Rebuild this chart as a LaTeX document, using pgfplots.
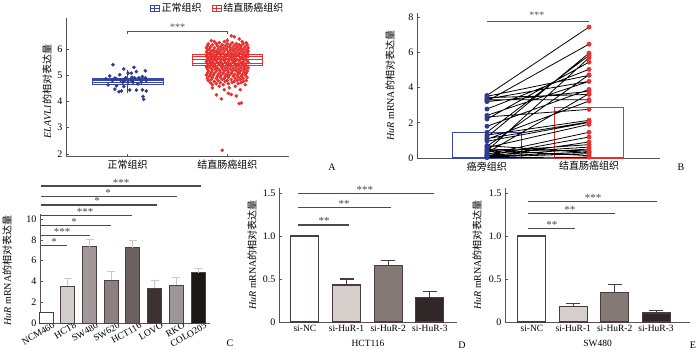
\documentclass[border=0pt]{standalone}
\usepackage{fontspec}
\setmainfont{Liberation Serif}
\newfontfamily\cjk{Noto Sans CJK SC}
\usepackage{pgfplots}
\pgfplotsset{compat=1.18}
\usepgfplotslibrary{statistics}
\definecolor{axc}{HTML}{555555}
\definecolor{bluep}{HTML}{2D3A8E}
\definecolor{redp}{HTML}{E8302E}
\definecolor{blueb}{HTML}{3848A8}
\definecolor{outl}{HTML}{4A4040}
\definecolor{errl}{HTML}{CFC6C6}
\definecolor{errd}{HTML}{4A3C3C}
\definecolor{sigc}{HTML}{4A4A4A}
\definecolor{c1}{HTML}{FFFFFF}
\definecolor{c2}{HTML}{D3CDCB}
\definecolor{c3}{HTML}{A39799}
\definecolor{c4}{HTML}{8B8080}
\definecolor{c5}{HTML}{6B6161}
\definecolor{c6}{HTML}{3C3232}
\definecolor{c7}{HTML}{9C9696}
\definecolor{c8}{HTML}{1C1717}
\definecolor{d2}{HTML}{D6CFCC}
\definecolor{d3}{HTML}{857977}
\definecolor{d4}{HTML}{302828}
\newcommand{\fT}{\fontsize{10bp}{12bp}\selectfont}
\newcommand{\fS}{\fontsize{9.5bp}{11bp}\selectfont}
\newcommand{\fR}{\fontsize{9.5bp}{10bp}\selectfont}
\newcommand{\fB}{\fontsize{11bp}{12bp}\selectfont}
\tikzset{sig/.style={draw=sigc, line width=1.1pt}}
\pgfplotsset{
  base/.style={scale only axis, anchor=south west, axis x line*=bottom, axis y line*=left,
    axis line style={draw=axc, line width=0.8pt}, tick style={draw=axc, line width=0.6pt},
    tick align=inside, major tick length=3bp, enlargelimits=false, clip=false,
    tick label style={font=\fT}, label style={font=\fT},
    /pgf/number format/assume math mode=true},
  cbar/.style={ybar, bar width=14bp, bar shift=0pt, draw=outl, line width=0.9pt,
    error bars/y dir=plus, error bars/y explicit,
    error bars/error bar style={line width=0.9pt, color=#1},
    error bars/error mark options={rotate=90, mark size=4bp, line width=0.9pt, color=#1}},
  dbar/.style={ybar, bar width=28bp, bar shift=0pt, draw=errd, line width=1.1pt,
    error bars/y dir=plus, error bars/y explicit,
    error bars/error bar style={line width=1.1pt, color=errd},
    error bars/error mark options={rotate=90, mark size=7bp, line width=1.1pt, color=errd}},
  pbar/.style={ybar, bar width=#1, bar shift=0pt},
  bx/.style={forget plot, boxplot/draw direction=y, boxplot/box extend=0.71, boxplot/whisker extend=0},
}
\begin{document}
\begin{tikzpicture}
\path[use as bounding box] (0,0) rectangle (700bp,350bp);
% ---------------- Panel A
\begin{axis}[base, at={(66bp,193.4bp)}, width=223bp, height=139.1bp,
  xmin=0.38, xmax=2.62, ymin=1.9, ymax=7.2, ytick={2,3,4,5,6},
  xtick={1,2}, xticklabels={{\cjk 正常组织},{\cjk 结直肠癌组织}},
  ylabel={{\itshape ELAVL1}{\cjk 的相对表达量}},
  ylabel style={at={(axis description cs:-0.085,0.47)}, anchor=center},
  legend style={at={(axis description cs:0.68,1.065)}, anchor=center, draw=none, fill=none,
    legend columns=2, font=\fT, /tikz/every even column/.style={column sep=8bp}},
  legend image code/.code={\draw[#1, line width=0.7pt] (0bp,-3bp) rectangle (9bp,3bp);
    \draw[#1, line width=0.7pt] (0bp,0bp) -- (9bp,0bp);
    \draw[#1, line width=0.7pt] (4.5bp,-3bp) -- (4.5bp,3bp);}]
\addlegendimage{draw=blueb}
\addlegendentry{\cjk 正常组织}
\addlegendimage{draw=redp}
\addlegendentry{\cjk 结直肠癌组织}
\addplot[bx, draw=blueb, line width=0.7pt, boxplot prepared={median=4.8, upper quartile=4.9, lower quartile=4.65, upper whisker=5.2, lower whisker=4.33, draw position=1}] coordinates {};
\addplot[bx, draw=blueb, line width=0.5pt, boxplot prepared={median=4.8, upper quartile=4.86, lower quartile=4.72, upper whisker=4.86, lower whisker=4.72, draw position=1}] coordinates {};
\addplot[bx, draw=redp, line width=0.7pt, boxplot prepared={median=5.6, upper quartile=5.8, lower quartile=5.37, upper whisker=6.42, lower whisker=4.8, draw position=2}] coordinates {};
\addplot[bx, draw=redp, line width=0.5pt, boxplot prepared={median=5.6, upper quartile=5.71, lower quartile=5.47, upper whisker=5.71, lower whisker=5.47, draw position=2}] coordinates {};
\addplot[forget plot, only marks, mark=*, mark size=1.6bp, color=bluep] table {
x y
0.853 5.40
0.96 5.24
1.063 5.30
1.087 5.14
1.177 5.17
0.82 4.97
1.003 5.08
0.927 4.82
1.043 4.92
1.12 4.84
1.177 4.90
0.803 4.63
0.887 4.60
0.937 4.40
1.02 4.44
1.087 4.43
1.147 4.44
1.187 4.40
1.153 4.19
1.16 4.08
0.913 4.37
0.847 4.80
1.053 4.73
1.103 4.67
0.87 4.89
0.98 4.90
1.037 4.80
1.137 4.74
0.92 5.02
0.887 4.86
0.96 4.57
1.07 4.90
1.187 4.80
1.003 4.73
0.95 4.73
1.113 4.90
1.147 4.95
0.87 4.47
0.97 4.80
0.78 4.86
1.037 5.08
};
\addplot[forget plot, only marks, mark=*, mark size=1.6bp, color=redp] table {
x y
2.04 6.50
2.07 6.47
2.12 6.38
1.84 6.32
2.00 6.32
1.87 6.28
1.97 6.28
2.15 6.28
1.92 6.24
2.05 6.24
2.19 6.24
1.81 6.20
1.89 6.20
2.00 6.20
2.09 6.20
2.16 6.20
1.85 6.16
1.95 6.16
2.03 6.16
2.12 6.16
2.20 6.16
1.80 6.12
1.90 6.12
1.98 6.12
2.07 6.12
2.14 6.12
1.83 6.08
1.93 6.08
2.02 6.08
2.10 6.08
2.18 6.08
1.79 6.04
1.87 6.04
1.96 6.04
2.05 6.04
2.13 6.04
2.21 6.04
1.82 6.00
1.91 6.00
1.99 6.00
2.08 6.00
2.16 6.00
1.80 5.96
1.86 5.96
1.94 5.96
2.03 5.96
2.11 5.96
2.19 5.96
1.84 5.92
1.89 5.92
1.97 5.92
2.06 5.92
2.14 5.92
2.21 5.92
1.79 5.88
1.87 5.88
1.92 5.88
2.01 5.88
2.09 5.88
2.17 5.88
1.82 5.84
1.90 5.84
1.96 5.84
2.04 5.84
2.12 5.84
2.20 5.84
1.80 5.80
1.85 5.80
1.94 5.80
2.00 5.80
2.07 5.80
2.15 5.80
1.83 5.76
1.89 5.76
1.98 5.76
2.05 5.76
2.11 5.76
2.18 5.76
1.79 5.72
1.86 5.72
1.93 5.72
2.02 5.72
2.09 5.72
2.16 5.72
2.21 5.72
1.81 5.68
1.88 5.68
1.96 5.68
2.04 5.68
2.13 5.68
2.19 5.68
1.84 5.64
1.91 5.64
1.99 5.64
2.07 5.64
2.15 5.64
1.80 5.60
1.87 5.60
1.94 5.60
2.02 5.60
2.10 5.60
2.18 5.60
1.82 5.56
1.89 5.56
1.97 5.56
2.05 5.56
2.12 5.56
2.20 5.56
1.79 5.52
1.85 5.52
1.93 5.52
2.01 5.52
2.08 5.52
2.16 5.52
1.83 5.48
1.90 5.48
1.98 5.48
2.06 5.48
2.14 5.48
2.21 5.48
1.80 5.44
1.87 5.44
1.95 5.44
2.03 5.44
2.11 5.44
2.18 5.44
1.84 5.40
1.92 5.40
2.00 5.40
2.08 5.40
2.15 5.40
1.81 5.36
1.88 5.36
1.96 5.36
2.04 5.36
2.12 5.36
2.19 5.36
1.79 5.32
1.86 5.32
1.94 5.32
2.01 5.32
2.09 5.32
2.17 5.32
1.83 5.28
1.90 5.28
1.98 5.28
2.06 5.28
2.14 5.28
2.21 5.28
1.80 5.24
1.88 5.24
1.95 5.24
2.03 5.24
2.11 5.24
2.18 5.24
1.85 5.20
1.92 5.20
2.00 5.20
2.08 5.20
2.16 5.20
1.81 5.16
1.89 5.16
1.97 5.16
2.05 5.16
2.13 5.16
2.20 5.16
1.84 5.12
1.93 5.12
2.01 5.12
2.10 5.12
2.17 5.12
1.80 5.08
1.87 5.08
1.96 5.08
2.04 5.08
2.12 5.08
2.19 5.08
1.83 5.04
1.91 5.04
1.99 5.04
2.07 5.04
2.15 5.04
1.79 5.00
1.86 5.00
1.94 5.00
2.02 5.00
2.10 5.00
2.18 5.00
1.82 4.96
1.90 4.96
1.98 4.96
2.06 4.96
2.14 4.96
1.85 4.92
1.93 4.92
2.01 4.92
2.11 4.92
2.20 4.92
1.80 4.88
1.89 4.88
1.97 4.88
2.08 4.88
2.16 4.88
1.84 4.84
1.95 4.84
2.04 4.84
2.13 4.84
1.81 4.80
1.91 4.80
2.00 4.80
2.10 4.80
2.19 4.80
1.87 4.76
1.98 4.76
2.07 4.76
2.16 4.76
1.83 4.72
1.93 4.72
2.05 4.72
2.14 4.72
1.89 4.68
2.01 4.68
2.11 4.68
1.85 4.64
1.96 4.64
2.18 4.64
1.92 4.58
2.08 4.58
1.85 4.52
2.02 4.52
1.97 4.45
2.13 4.45
1.89 4.25
1.94 4.10
2.01 4.31
2.04 4.27
2.09 4.21
2.14 3.94
2.12 3.92
1.95 2.14
};
\draw[draw=axc, line width=0.6pt] (axis cs:1,6.57) -- (axis cs:1,6.69) -- (axis cs:2,6.69) -- (axis cs:2,6.57);
\node[font=\fT, text=axc, anchor=base] at (axis cs:1.5,6.69) {***};
\end{axis}
\node[font=\fT] at (332bp,183bp) {A};
% ---------------- Panel B
\begin{axis}[base, at={(417bp,192bp)}, width=243bp, height=144.5bp,
  xmin=0.314, xmax=2.696, ymin=0, ymax=8.2, ytick={0,2,4,6,8},
  xtick={1,2}, xticklabels={{\cjk 癌旁组织},{\cjk 结直肠癌组织}}, major x tick style={draw=none},
  ylabel={{\itshape HuR} mRNA{\cjk 的相对表达量}},
  ylabel style={at={(axis description cs:-0.111,0.5)}, anchor=center},
  unbounded coords=jump]
\addplot[pbar=69bp, draw=blueb, fill=none, line width=1.1pt] coordinates {(1,1.45)};
\addplot[pbar=69bp, draw=redp, fill=none, line width=1.1pt] coordinates {(2,2.85)};
\addplot[black, line width=0.8pt] coordinates {
(1,3.55) (2,7.43) (1,nan)
(1,3.50) (2,4.69) (1,nan)
(1,3.42) (2,3.61) (1,nan)
(1,3.31) (2,3.31) (1,nan)
(1,3.23) (2,6.46) (1,nan)
(1,3.20) (2,3.78) (1,nan)
(1,3.35) (2,4.35) (1,nan)
(1,2.78) (2,5.03) (1,nan)
(1,2.42) (2,4.35) (1,nan)
(1,2.33) (2,2.76) (1,nan)
(1,2.21) (2,5.44) (1,nan)
(1,1.80) (2,3.89) (1,nan)
(1,1.46) (2,5.82) (1,nan)
(1,1.30) (2,2.14) (1,nan)
(1,1.19) (2,5.95) (1,nan)
(1,1.06) (2,3.23) (1,nan)
(1,0.95) (2,2.02) (1,nan)
(1,0.66) (2,4.72) (1,nan)
(1,0.59) (2,1.91) (1,nan)
(1,0.40) (2,5.69) (1,nan)
(1,0.30) (2,3.65) (1,nan)
(1,0.21) (2,1.46) (1,nan)
(1,0.13) (2,1.19) (1,nan)
(1,0.06) (2,0.91) (1,nan)
(1,0.35) (2,0.76) (1,nan)
(1,0.25) (2,0.62) (1,nan)
(1,0.15) (2,0.51) (1,nan)
(1,0.10) (2,0.34) (1,nan)
(1,0.05) (2,0.25) (1,nan)
(1,0.45) (2,0.13) (1,nan)
(1,1.10) (2,2.05) (1,nan)
(1,0.02) (2,0.05) (1,nan)
(1,0.50) (2,0.40) (1,nan)
(1,0.70) (2,0.30)
};
\addplot[only marks, mark=*, mark size=2.2bp, color=bluep] coordinates {
(1,3.55)(1,3.50)(1,3.42)(1,3.31)(1,3.23)(1,3.20)(1,3.35)(1,2.78)(1,2.42)(1,2.33)(1,2.21)
(1,1.80)(1,1.46)(1,1.30)(1,1.19)(1,1.06)(1,0.95)(1,0.66)(1,0.59)(1,0.40)(1,0.30)(1,0.21)
(1,0.13)(1,0.06)(1,0.35)(1,0.25)(1,0.15)(1,0.10)(1,0.05)(1,0.45)(1,1.10)(1,0.02)(1,0.50)(1,0.70)};
\addplot[only marks, mark=*, mark size=2.2bp, color=redp] coordinates {
(2,7.43)(2,4.69)(2,3.61)(2,3.31)(2,6.46)(2,3.78)(2,4.35)(2,5.03)(2,2.76)(2,5.44)
(2,3.89)(2,5.82)(2,2.14)(2,5.95)(2,3.23)(2,2.02)(2,4.72)(2,1.91)(2,5.69)(2,3.65)(2,1.46)
(2,1.19)(2,0.91)(2,0.76)(2,0.62)(2,0.51)(2,0.34)(2,0.25)(2,0.13)(2,2.05)(2,0.05)(2,0.40)(2,0.30)};
\draw[draw=axc, line width=1.1pt] (axis cs:1,7.77) -- (axis cs:2,7.77);
\node[font=\fT, text=axc, anchor=base] at (axis cs:1.49,7.9) {***};
\end{axis}
\node[font=\fT] at (681bp,183bp) {B};
% ---------------- Panel C
\begin{axis}[base, at={(40bp,27bp)}, width=170bp, height=109.2bp,
  xmin=-0.28, xmax=7.55, ymin=0, ymax=10.5, ytick={0,2,4,6,8,10},
  xtick={0,...,7}, major x tick style={draw=none},
  xticklabels={NCM460,HCT8,SW480,SW620,HCT116,LOVO,RKO,COLO205},
  xticklabel style={rotate=30, anchor=north east, inner sep=0pt, xshift=6bp, yshift=-2bp, font=\fR},
  ylabel={{\itshape HuR} mRNA{\cjk 的相对表达量}},
  ylabel style={at={(axis description cs:-0.194,0.48)}, anchor=center}]
\addplot[pbar=14bp, draw=outl, line width=0.9pt, fill=c1] coordinates {(0,1.0)};
\addplot[cbar=errl, fill=c2] coordinates {(1,3.55) +- (0,0.75)};
\addplot[cbar=errl, fill=c3] coordinates {(2,7.35) +- (0,0.7)};
\addplot[cbar=errl, fill=c4] coordinates {(3,4.1) +- (0,0.9)};
\addplot[cbar=errl, fill=c5] coordinates {(4,7.25) +- (0,0.65)};
\addplot[cbar=errl, fill=c6] coordinates {(5,3.35) +- (0,0.7)};
\addplot[cbar=errl, fill=c7] coordinates {(6,3.65) +- (0,0.7)};
\addplot[cbar=errl, fill=c8] coordinates {(7,4.85) +- (0,0.4)};
\draw[sig] (axis cs:-0.23,7.43) -- (axis cs:0.97,7.43);
\draw[sig] (axis cs:-0.23,8.37) -- (axis cs:2.03,8.37);
\draw[sig] (axis cs:-0.23,9.36) -- (axis cs:3.0,9.36);
\draw[sig] (axis cs:-0.23,10.3) -- (axis cs:3.96,10.3);
\draw[sig] (axis cs:-0.23,11.35) -- (axis cs:5.1,11.35);
\draw[sig] (axis cs:-0.23,12.15) -- (axis cs:6.04,12.15);
\draw[sig] (axis cs:-0.23,13.17) -- (axis cs:7.14,13.17);
\node[font=\fB, text=sigc, anchor=base] at (axis cs:0.37,7.43) {*};
\node[font=\fB, text=sigc, anchor=base] at (axis cs:0.74,8.37) {***};
\node[font=\fB, text=sigc, anchor=base] at (axis cs:1.29,9.36) {*};
\node[font=\fB, text=sigc, anchor=base] at (axis cs:1.80,10.3) {***};
\node[font=\fB, text=sigc, anchor=base] at (axis cs:2.35,11.35) {*};
\node[font=\fB, text=sigc, anchor=base] at (axis cs:2.86,12.15) {*};
\node[font=\fB, text=sigc, anchor=base] at (axis cs:3.46,13.17) {***};
\end{axis}
\node[font=\fT] at (230bp,7bp) {C};
% ---------------- Panel D
\begin{axis}[base, at={(279bp,28bp)}, width=178bp, height=134.2bp,
  xmin=-0.62, xmax=3.65, ymin=0, ymax=1.56, ytick={0,0.5,1,1.5}, yticklabels={0,0.5,1.0,1.5},
  xtick={0,...,3}, major x tick style={draw=none},
  xticklabels={si-NC,si-HuR-1,si-HuR-2,si-HuR-3}, xticklabel style={font=\fS},
  xlabel={HCT116}, xlabel style={font=\fS, yshift=-1bp},
  ylabel={{\itshape HuR} mRNA{\cjk 的相对表达量}},
  ylabel style={at={(axis description cs:-0.152,0.5)}, anchor=center}]
\addplot[pbar=28bp, draw=errd, line width=1.1pt, fill=c1] coordinates {(0,1.0)};
\addplot[dbar, fill=d2] coordinates {(1,0.43) +- (0,0.07)};
\addplot[dbar, fill=d3] coordinates {(2,0.66) +- (0,0.06)};
\addplot[dbar, fill=d4] coordinates {(3,0.29) +- (0,0.065)};
\draw[sig] (axis cs:-0.17,1.128) -- (axis cs:1.06,1.128);
\draw[sig] (axis cs:-0.17,1.326) -- (axis cs:2.06,1.326);
\draw[sig] (axis cs:-0.17,1.49) -- (axis cs:3.09,1.49);
\node[font=\fB, text=sigc, anchor=base] at (axis cs:0.46,1.128) {**};
\node[font=\fB, text=sigc, anchor=base] at (axis cs:0.94,1.326) {**};
\node[font=\fB, text=sigc, anchor=base] at (axis cs:1.44,1.49) {***};
\end{axis}
\node[font=\fT] at (462bp,5bp) {D};
% ---------------- Panel E
\begin{axis}[base, at={(505bp,28bp)}, width=185bp, height=134.2bp,
  xmin=-0.65, xmax=3.82, ymin=0, ymax=1.56, ytick={0,0.5,1,1.5}, yticklabels={0,0.5,1.0,1.5},
  xtick={0,...,3}, major x tick style={draw=none},
  xticklabels={si-NC,si-HuR-1,si-HuR-2,si-HuR-3}, xticklabel style={font=\fS},
  xlabel={SW480}, xlabel style={font=\fS, yshift=-1bp},
  ylabel={{\itshape HuR} mRNA{\cjk 的相对表达量}},
  ylabel style={at={(axis description cs:-0.151,0.5)}, anchor=center}]
\addplot[pbar=28bp, draw=errd, line width=1.1pt, fill=c1] coordinates {(0,1.0)};
\addplot[dbar, fill=d2] coordinates {(1,0.18) +- (0,0.035)};
\addplot[dbar, fill=d3] coordinates {(2,0.34) +- (0,0.10)};
\addplot[dbar, fill=d4] coordinates {(3,0.105) +- (0,0.03)};
\draw[sig] (axis cs:-0.1,1.09) -- (axis cs:1.04,1.09);
\draw[sig] (axis cs:-0.1,1.264) -- (axis cs:2.0,1.264);
\draw[sig] (axis cs:-0.1,1.40) -- (axis cs:3.02,1.40);
\node[font=\fB, text=sigc, anchor=base] at (axis cs:0.48,1.09) {**};
\node[font=\fB, text=sigc, anchor=base] at (axis cs:0.92,1.264) {**};
\node[font=\fB, text=sigc, anchor=base] at (axis cs:1.48,1.40) {***};
\end{axis}
\node[font=\fT] at (693bp,5bp) {E};
\end{tikzpicture}
\end{document}
